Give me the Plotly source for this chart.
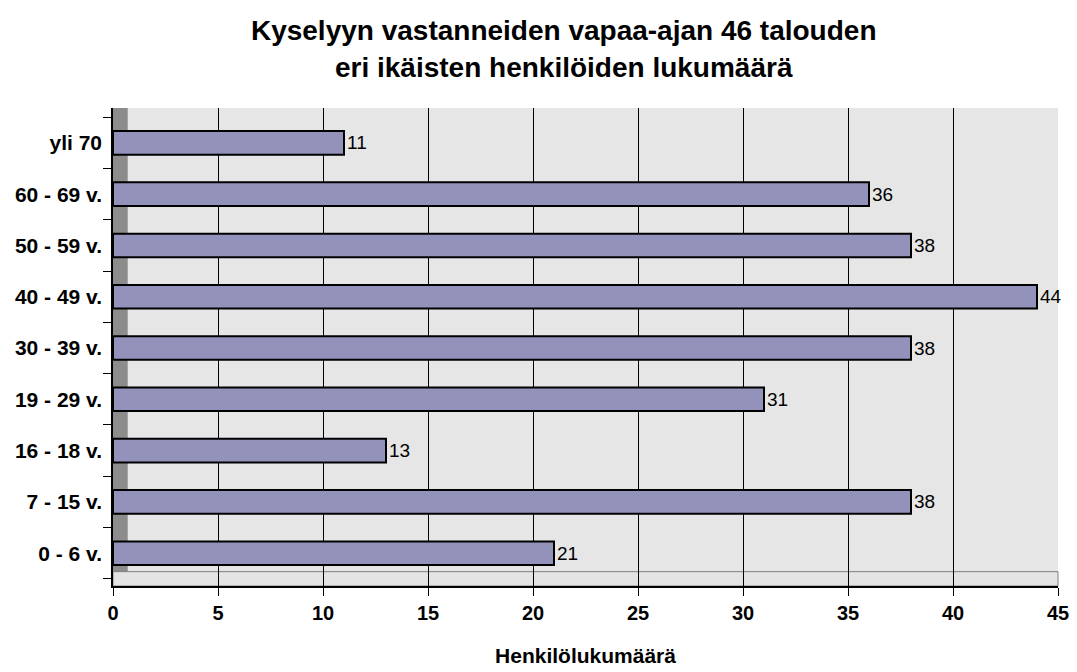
import plotly.graph_objects as go

CATEGORIES = ["0 - 6 v.", "7 - 15 v.", "16 - 18 v.", "19 - 29 v.", "30 - 39 v.",
              "40 - 49 v.", "50 - 59 v.", "60 - 69 v.", "yli 70"]
COUNTS = [21, 38, 13, 31, 38, 44, 38, 36, 11]

BAR_COLOR = "#9292BA"
FONT = "Liberation Sans, Arial, sans-serif"

fig = go.Figure(
    go.Bar(
        x=COUNTS,
        y=CATEGORIES,
        orientation="h",
        width=0.46,
        marker=dict(color=BAR_COLOR, line=dict(color="black", width=2)),
        text=[str(v) for v in COUNTS],
        textposition="outside",
        textfont=dict(size=19, color="black", family=FONT),
        cliponaxis=False,
        hovertemplate="%{y}: %{x}<extra></extra>",
    )
)

# left wall and floor of the Excel style 3D box
fig.add_shape(type="rect", xref="x", yref="paper", x0=0, x1=0.7, y0=0, y1=1,
              fillcolor="#8C8C8C", line=dict(width=0), layer="below")
fig.add_shape(type="rect", xref="paper", yref="paper", x0=0, x1=1, y0=0, y1=0.03,
              fillcolor="#E4E4E4", line=dict(color="#808080", width=1), layer="below")

# the page body adds an 8px margin, so the plot box is placed 8px up/left
fig.update_layout(
    width=1077,
    height=672,
    margin=dict(l=105, r=27, t=100, b=94),
    paper_bgcolor="white",
    plot_bgcolor="#E6E6E6",
    showlegend=False,
    font=dict(family=FONT, color="black"),
    title=dict(
        text="Kyselyyn vastanneiden vapaa-ajan 46 talouden<br>eri ikäisten henkilöiden lukumäärä",
        x=0.516, xanchor="center", y=0.952, yanchor="top",
        font=dict(size=28, family=FONT, color="black", weight="bold"),
    ),
)
fig.update_xaxes(
    range=[0, 45],
    dtick=5,
    automargin=False,
    showgrid=True,
    gridcolor="black",
    gridwidth=1,
    zeroline=False,
    showline=True,
    linecolor="black",
    linewidth=1.5,
    ticks="outside",
    ticklen=8,
    tickcolor="black",
    tickfont=dict(size=20, family=FONT, weight="bold"),
    title=dict(text="Henkilölukumäärä", standoff=26,
               font=dict(size=21, family=FONT, weight="bold")),
)
fig.update_yaxes(
    range=[-0.64, 8.68],
    automargin=False,
    showgrid=False,
    showline=True,
    linecolor="black",
    linewidth=1.5,
    ticks="outside",
    tickson="boundaries",
    ticklen=8,
    tickcolor="black",
    ticklabelstandoff=5,
    tickfont=dict(size=21, family=FONT, weight="bold"),
)

fig.write_html("out.html")
